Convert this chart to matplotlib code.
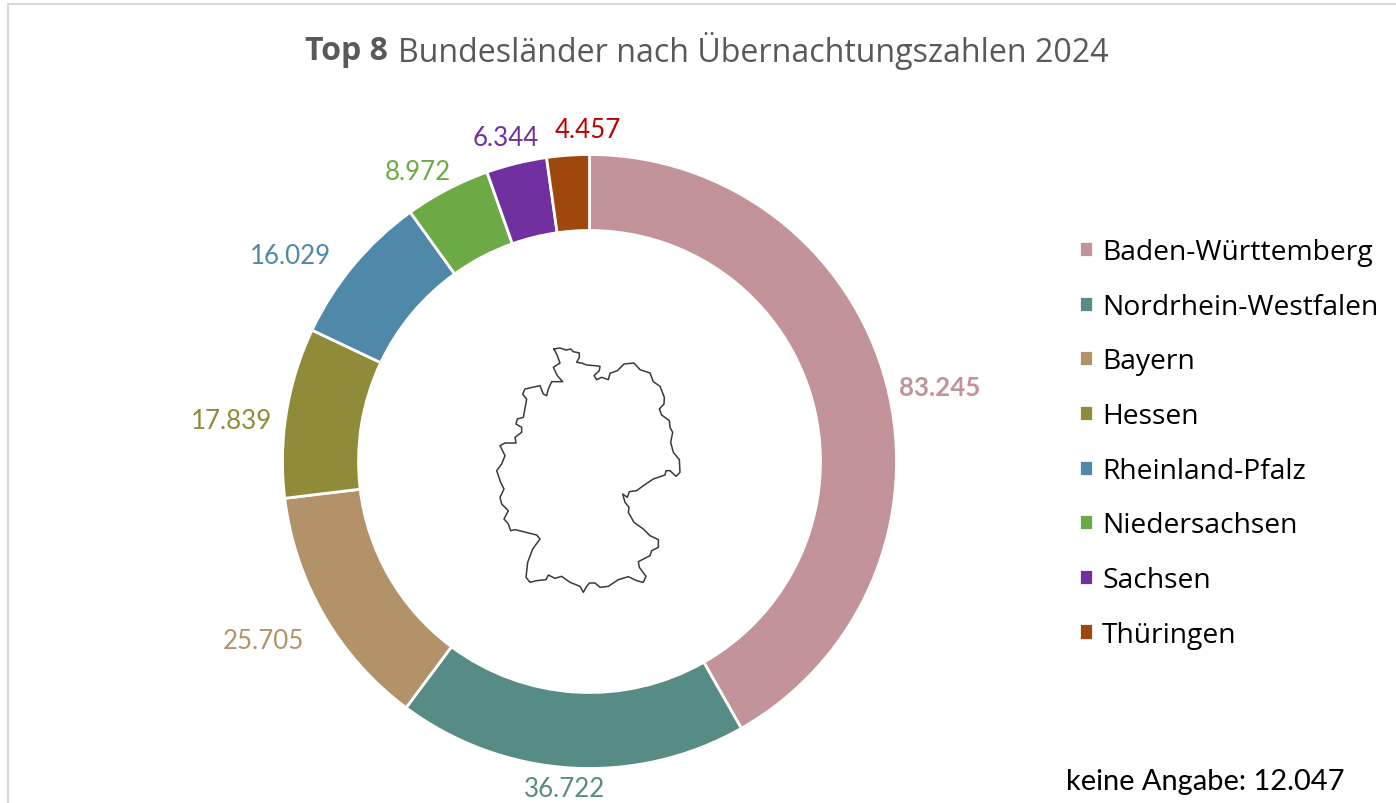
#!/usr/bin/env python3
"""Top 8 Bundeslaender donut chart."""
import numpy as np
import matplotlib
matplotlib.use("Agg")
import matplotlib.pyplot as plt

plt.rcParams["font.family"] = ["Lato", "DejaVu Sans"]

states = ["Baden-Württemberg", "Nordrhein-Westfalen", "Bayern", "Hessen",
          "Rheinland-Pfalz", "Niedersachsen", "Sachsen", "Thüringen"]
values = [83245, 36722, 25705, 17839, 16029, 8972, 6344, 4457]
value_labels = ["83.245", "36.722", "25.705", "17.839", "16.029", "8.972", "6.344", "4.457"]
colors = ["#C29399", "#568C85", "#B29369", "#8F8B38", "#4F88A8", "#6DAA46", "#7030A0", "#9E480E"]
label_colors = colors[:-1] + ["#C00000"]
# label centres in image pixels
label_x = [939.5, 565, 263, 231, 290.5, 418, 505.5, 587.5]
label_y = [388, 790, 642, 422, 256, 172, 139, 130]

# Germany outline (zoom crop coords, 3x, offset 480/340)
outline = np.array([
    (222, 30), (240, 27), (258, 33), (272, 30), (280, 38), (298, 42), (298, 55), (290, 70),
    (305, 72), (320, 78), (345, 80), (360, 82), (358, 95), (342, 110), (350, 122), (365, 115),
    (385, 122), (390, 103), (412, 95), (432, 75), (462, 72), (480, 92), (510, 102), (520, 128),
    (540, 142), (553, 175), (552, 195), (538, 210), (545, 228), (568, 245), (570, 265), (578, 280),
    (572, 310), (580, 340), (598, 362), (600, 400), (588, 412), (570, 395), (558, 395), (555, 408),
    (520, 420), (490, 440), (470, 455), (448, 458), (442, 475), (428, 465), (435, 490), (447, 505),
    (445, 520), (462, 550), (490, 570), (510, 590), (535, 602), (535, 625), (515, 635), (510, 650),
    (475, 668), (478, 685), (498, 712), (490, 730), (470, 725), (445, 713), (415, 722), (385, 742),
    (360, 745), (345, 732), (328, 732), (318, 745), (310, 760), (300, 742), (270, 730), (245, 712),
    (225, 718), (205, 708), (198, 722), (170, 725), (150, 730), (138, 715), (143, 670), (158, 630),
    (180, 600), (170, 588), (130, 578), (105, 572), (92, 575), (85, 555), (72, 540), (85, 515),
    (65, 495), (60, 475), (72, 450), (62, 430), (50, 395), (65, 375), (75, 350), (60, 320),
    (75, 312), (108, 312), (105, 295), (125, 280), (125, 265), (108, 255), (112, 240), (130, 235),
    (140, 180), (128, 165), (135, 150), (180, 140), (190, 165), (200, 170), (205, 150), (215, 128),
    (248, 128), (232, 110), (220, 85), (240, 72), (232, 50), (222, 30),
], dtype=float)

fig = plt.figure(figsize=(13.96, 8.04), dpi=100)
# whole figure as one axes in image pixels, y pointing down
ax = fig.add_axes([0, 0, 1, 1])
ax.set_xlim(0, 1396)
ax.set_ylim(804, 0)
ax.axis("off")

# ylim is flipped, so counterclock=True runs clockwise on screen
wedges, _ = ax.pie(values, colors=colors, startangle=270, counterclock=True,
                   center=(589.5, 462.5), radius=307, frame=False,
                   wedgeprops=dict(width=76, edgecolor="white", linewidth=2.0))
ax.set_xlim(0, 1396)
ax.set_ylim(804, 0)
ax.set_aspect("auto")

ax.plot(outline[:, 0] / 3 + 480, outline[:, 1] / 3 + 340, color="#3A3A3A", lw=1.1)

# slide frame
ax.plot([8, 8, 1396], [804, 5, 5], color="#D9D9D9", lw=1.5)

ax.text(305, 51, "Top 8", fontsize=23, fontweight="bold", color="#595959", va="center",
        family="Open Sans")
ax.text(398, 51, "Bundesländer nach Übernachtungszahlen 2024", fontsize=23.1, color="#595959",
        va="center", family="Open Sans")

for i, lab in enumerate(value_labels):
    ax.text(label_x[i], label_y[i], lab, fontsize=18.6, color=label_colors[i], ha="center", va="center",
            fontweight="bold" if i == 0 else "normal")

ax.legend(wedges, states, loc="upper left", bbox_to_anchor=(1079, 239), bbox_transform=ax.transData,
          frameon=False, prop=dict(family="Open Sans", size=20.3), labelspacing=0.945, handlelength=0.5,
          handleheight=0.5, handletextpad=0.32, borderpad=0, borderaxespad=0)

ax.text(1066, 782, "keine Angabe: 12.047", fontsize=20.9, color="black", va="center")

fig.savefig("out.png")
